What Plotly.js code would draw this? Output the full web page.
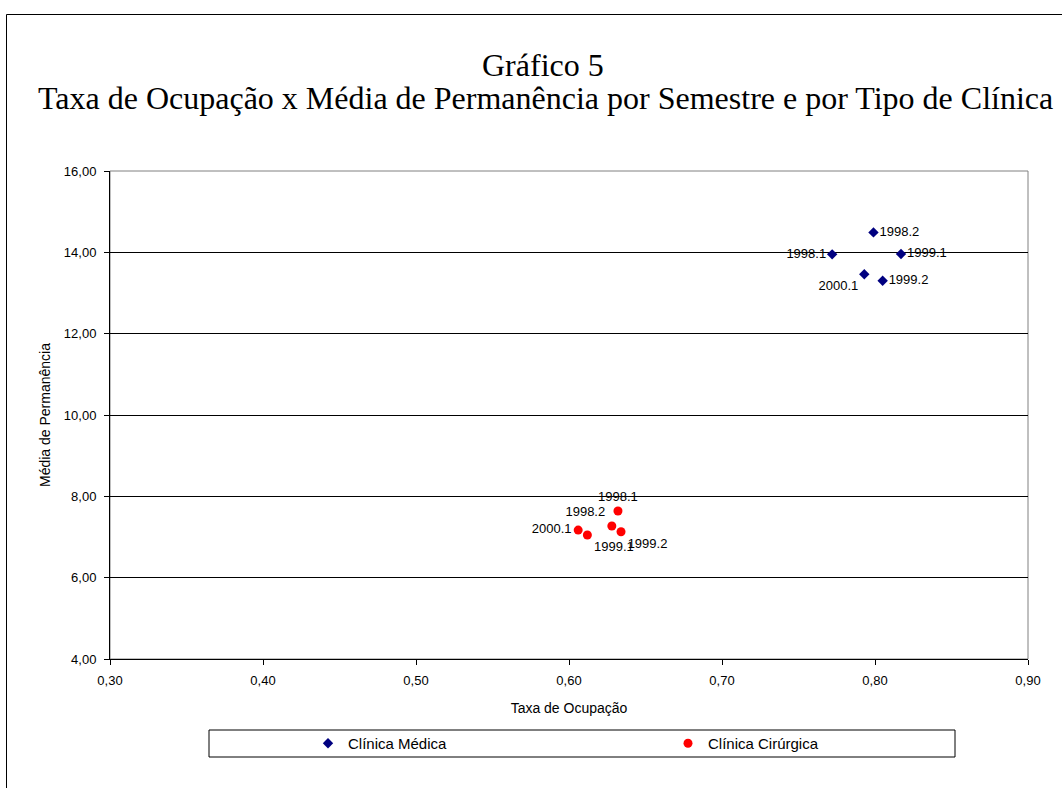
<!DOCTYPE html>
<html>
<head>
<meta charset="utf-8">
<script src="https://cdn.plot.ly/plotly-3.0.1.min.js"></script>
<style>html,body{margin:0;padding:0;background:#fff;}#chart{width:1062px;height:788px;}</style>
</head>
<body>
<div id="chart"></div>
<script>
// Data
const semestres = ['1998.1', '1998.2', '1999.1', '1999.2', '2000.1'];
const medicaOcupacao = [0.772, 0.799, 0.817, 0.805, 0.793];
const medicaPermanencia = [13.95, 14.49, 13.96, 13.30, 13.46];
const cirurgicaOcupacao = [0.632, 0.628, 0.612, 0.634, 0.606];
const cirurgicaPermanencia = [7.64, 7.27, 7.05, 7.13, 7.17];
const serieNomes = ['Clínica Médica', 'Clínica Cirúrgica'];
const tituloLinha1 = 'Gráfico 5';
const tituloLinha2 = 'Taxa de Ocupação x Média de Permanência por Semestre e por Tipo de Clínica';

const medPos = ['middle left', 'middle right', 'middle right', 'middle right', 'bottom left'];
const cirPos = ['top center', 'top left', 'bottom right', 'bottom right', 'middle left'];

const traces = [
  {
    type: 'scatter', mode: 'markers+text', name: serieNomes[0],
    x: medicaOcupacao, y: medicaPermanencia, text: semestres,
    textposition: medPos,
    textfont: {family: 'Liberation Sans, Arial, sans-serif', size: 13, color: '#000'},
    marker: {symbol: 'diamond', size: 8, color: '#000080'},
    cliponaxis: false
  },
  {
    type: 'scatter', mode: 'markers+text', name: serieNomes[1],
    x: cirurgicaOcupacao, y: cirurgicaPermanencia, text: semestres,
    textposition: cirPos,
    textfont: {family: 'Liberation Sans, Arial, sans-serif', size: 13, color: '#000'},
    marker: {symbol: 'circle', size: 9, color: '#FF0000'},
    cliponaxis: false
  }
];

const W = 918, H = 488;
function px(x){ return (x - 110) / W; }
function py(y){ return (659 - y) / H; }

const layout = {
  width: 1062, height: 788,
  margin: {l: 110, r: 34, t: 171, b: 129},
  paper_bgcolor: '#fff', plot_bgcolor: '#fff',
  separators: ',.',
  font: {family: 'Liberation Sans, Arial, sans-serif', size: 13, color: '#000'},
  showlegend: true,
  legend: {
    orientation: 'h', x: px(308), xanchor: 'left', y: py(743.5), yanchor: 'middle',
    entrywidth: 315, entrywidthmode: 'pixels',
    bgcolor: 'rgba(0,0,0,0)', borderwidth: 0,
    font: {family: 'Liberation Sans, Arial, sans-serif', size: 15, color: '#000'}
  },
  xaxis: {
    range: [0.3, 0.9], dtick: 0.1, tick0: 0.3, tickformat: '.2f',
    showgrid: false, zeroline: false,
    showline: true, linecolor: '#000', linewidth: 1,
    ticks: 'outside', ticklen: 5, tickcolor: '#000',
    tickfont: {size: 13}, ticklabelstandoff: 4,
    title: {text: 'Taxa de Ocupação', font: {size: 14}, standoff: 16}
  },
  yaxis: {
    range: [4, 16], dtick: 2, tick0: 4, tickformat: '.2f',
    showgrid: true, gridcolor: '#000', gridwidth: 1, zeroline: false,
    showline: true, linecolor: '#000', linewidth: 1,
    ticks: 'outside', ticklen: 5, tickcolor: '#000',
    tickfont: {size: 13}, ticklabelstandoff: 5,
    title: {text: 'Média de Permanência', font: {size: 14}, standoff: 9}
  },
  shapes: [
    {type: 'rect', xref: 'paper', yref: 'paper', x0: 0, x1: 1, y0: 0, y1: 1,
     line: {color: '#808080', width: 1}, layer: 'below'},
    {type: 'rect', xref: 'paper', yref: 'paper', x0: px(209), x1: px(955), y0: py(730), y1: py(757),
     line: {color: '#000', width: 1}},
    {type: 'line', xref: 'paper', yref: 'paper', x0: px(6.5), x1: px(6.5), y0: py(14.5), y1: py(800),
     line: {color: '#000', width: 1}},
    {type: 'line', xref: 'paper', yref: 'paper', x0: px(6.5), x1: px(1070), y0: py(14.5), y1: py(14.5),
     line: {color: '#000', width: 1}}
  ],
  annotations: [
    {text: tituloLinha1, xref: 'paper', yref: 'paper', x: px(543), y: py(65), xanchor: 'center', yanchor: 'middle',
     showarrow: false, font: {family: 'Liberation Serif, Times New Roman, serif', size: 32, color: '#000'}},
    {text: tituloLinha2, xref: 'paper', yref: 'paper', x: px(545), y: py(98), xanchor: 'center', yanchor: 'middle',
     showarrow: false, font: {family: 'Liberation Serif, Times New Roman, serif', size: 32, color: '#000'}}
  ]
};

Plotly.newPlot('chart', traces, layout, {displayModeBar: false, staticPlot: true});
</script>
</body>
</html>
